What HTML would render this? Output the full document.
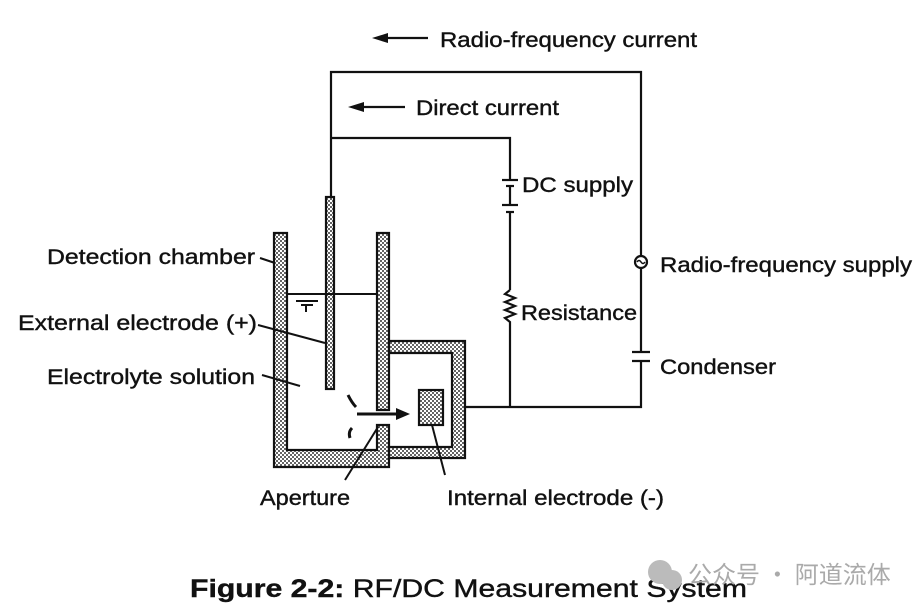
<!DOCTYPE html>
<html><head><meta charset="utf-8"><style>
body{margin:0;background:#fff}
svg{display:block}
text{font-family:"Liberation Sans",Arial,sans-serif;font-size:21px;fill:#111;stroke:#111;stroke-width:0.4}
</style></head><body>
<svg width="922" height="613" viewBox="0 0 922 613" xmlns="http://www.w3.org/2000/svg">
<defs>
<pattern id="dots" width="4" height="4" patternUnits="userSpaceOnUse">
<rect width="4" height="4" fill="#fff"/>
<circle cx="1" cy="1" r="1" fill="#333"/><circle cx="3" cy="3" r="1" fill="#333"/>
</pattern>
</defs>
<g stroke="#111" stroke-width="2.2" fill="none">
<polyline points="331,197 331,72 641,72 641,256"/>
<polyline points="641,268 641,352"/>
<polyline points="641,361 641,407 463,407"/>
<polyline points="331,138 510,138 510,180"/>
<line x1="510" y1="212" x2="510" y2="290"/>
<polyline points="510,290 505,294 515,298 505,302 515,306 505,310 515,314 505,318 510,322 510,407"/>
<line x1="502" y1="180" x2="518" y2="180"/>
<line x1="506" y1="186" x2="514" y2="186"/>
<line x1="510" y1="186" x2="510" y2="205"/>
<line x1="502" y1="205" x2="518" y2="205"/>
<line x1="506" y1="212" x2="514" y2="212"/>
<line x1="632" y1="352" x2="650" y2="352"/>
<line x1="632" y1="361" x2="650" y2="361"/>
<circle cx="641" cy="262" r="6"/>
<path d="M637 262 q2 -3 4 0 q2 3 4 0" stroke-width="1.5"/>
<line x1="385" y1="38" x2="428" y2="38"/>
<line x1="360" y1="107" x2="405" y2="107"/>
</g>
<polygon points="372,38 388,33 388,43" fill="#111"/>
<polygon points="348,107 364,102 364,112" fill="#111"/>
<g stroke="#111" stroke-width="2.2" fill="url(#dots)">
<path d="M274,233 H287 V450 H377 V425 H389 V467 H274 Z"/>
<path d="M377,233 H389 V410 H377 Z"/>
<path d="M389,341 H465 V458 H389 V447 H452 V353 H389 Z"/>
<rect x="326" y="197" width="8" height="192"/>
<rect x="419" y="390" width="24" height="35"/>
</g>
<g stroke="#111" stroke-width="2" fill="none">
<line x1="287" y1="294" x2="377" y2="294"/>
<line x1="296" y1="301" x2="318" y2="301"/>
<line x1="301" y1="305" x2="313" y2="305"/>
<line x1="306" y1="305" x2="306" y2="312"/>
<line x1="357" y1="414" x2="400" y2="414" stroke-width="3"/>
<line x1="260" y1="258" x2="275" y2="263"/>
<line x1="258" y1="325" x2="325" y2="343"/>
<line x1="262" y1="375" x2="300" y2="386"/>
<line x1="345" y1="480" x2="378" y2="427"/>
<line x1="432" y1="425" x2="445" y2="475"/>
</g>
<polygon points="410,414 396,408 396,420" fill="#111"/>
<path d="M348 395 q4 8 8 12" stroke="#111" stroke-width="3" fill="none"/>
<path d="M352 428 q-4 4 -2 10" stroke="#111" stroke-width="3" fill="none"/>
<text x="440" y="47" textLength="257" lengthAdjust="spacingAndGlyphs">Radio-frequency current</text>
<text x="416" y="115" textLength="143" lengthAdjust="spacingAndGlyphs">Direct current</text>
<text x="522" y="192" textLength="111" lengthAdjust="spacingAndGlyphs">DC supply</text>
<text x="660" y="272" textLength="252" lengthAdjust="spacingAndGlyphs">Radio-frequency supply</text>
<text x="521" y="320" textLength="116" lengthAdjust="spacingAndGlyphs">Resistance</text>
<text x="660" y="374" textLength="116" lengthAdjust="spacingAndGlyphs">Condenser</text>
<text x="47" y="264" textLength="208" lengthAdjust="spacingAndGlyphs">Detection chamber</text>
<text x="18" y="330" textLength="239" lengthAdjust="spacingAndGlyphs">External electrode (+)</text>
<text x="47" y="384" textLength="208" lengthAdjust="spacingAndGlyphs">Electrolyte solution</text>
<text x="260" y="505" textLength="90" lengthAdjust="spacingAndGlyphs">Aperture</text>
<text x="447" y="505" textLength="217" lengthAdjust="spacingAndGlyphs">Internal electrode (-)</text>
<text x="190" y="597" style="font-size:25px" textLength="557" lengthAdjust="spacingAndGlyphs"><tspan font-weight="bold">Figure 2-2:</tspan> RF/DC Measurement System</text>
<circle cx="660" cy="572" r="12" fill="#bbb"/><circle cx="672" cy="580" r="10" fill="#bbb"/>
<text x="688" y="583" style="font-family:'Noto Sans CJK SC',sans-serif;font-size:24px;fill:#aaa;stroke:none">公众号 · 阿道流体</text>
</svg>
</body></html>
